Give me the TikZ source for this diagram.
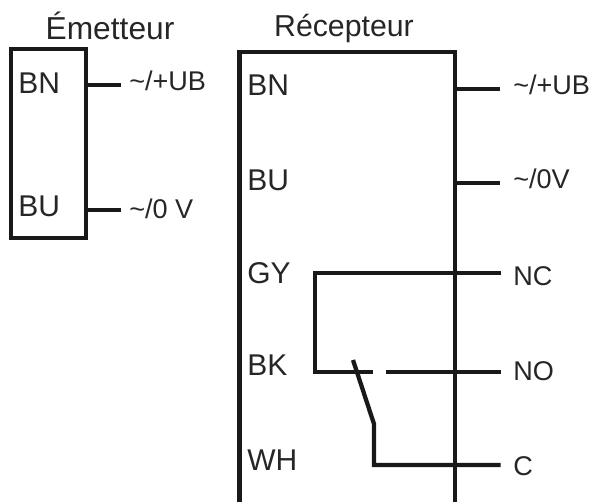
\documentclass[tikz,border=0pt]{standalone}
\usepackage{fontspec}
\setmainfont{Liberation Sans}
\begin{document}
\begin{tikzpicture}[x=0.75pt,y=-0.75pt,
  wire/.style={line width=3.2pt,line join=miter,black!90},
  pin/.style={inner sep=0pt,anchor=west,font=\fontsize{22.5}{22}\selectfont,text=black!85},
  term/.style={inner sep=0pt,anchor=west,font=\fontsize{20.3}{20}\selectfont,text=black!85},
  head/.style={inner sep=0pt,anchor=center,text=black!85}]
\useasboundingbox (0,0) rectangle (592,502);
% Emitter
\node[draw,wire,minimum width=56.25pt,minimum height=141.75pt,anchor=north west,inner sep=0pt] (em) at (9,47) {};
\node[head,font=\fontsize{23.8}{24}\selectfont] (emt) at (110,26) {Émetteur};
\node[pin] (e1) at (18,83) {BN};
\node[pin] (e2) at (18,206) {BU};
\node[term] (et1) at (129,81) {\textasciitilde/+UB};
\node[term] (et2) at (129,209) {\textasciitilde/0 V};
\coordinate (e1a) at (86,85); \coordinate (e1b) at (121,85);
\coordinate (e2a) at (86,210); \coordinate (e2b) at (121,210);
\draw[wire] (e1a) -- (e1b);
\draw[wire] (e2a) -- (e2b);
% Receiver
\node[head,font=\fontsize{22.7}{23}\selectfont] (rc) at (344,29) {Récepteur};
\coordinate (rbl) at (239.5,502); \coordinate (rtl) at (239.5,52);
\coordinate (rtr) at (455,52); \coordinate (rbr) at (455,502);
\draw[wire] (rbl) -- (rtl) -- (rtr) -- (rbr);
\node[pin] (r1) at (247,85) {BN};
\node[pin] (r2) at (247,180) {BU};
\node[pin] (r3) at (247,273) {GY};
\node[pin] (r4) at (247,365) {BK};
\node[pin] (r5) at (247,460) {WH};
\node[term] (t1) at (513,85) {\textasciitilde/+UB};
\node[term] (t2) at (513,179) {\textasciitilde/0V};
\node[term] (t3) at (513,276) {NC};
\node[term] (t4) at (513,371) {NO};
\node[term] (t5) at (513,466) {C};
\coordinate (a1) at (455,89); \coordinate (b1) at (500,89);
\coordinate (a2) at (455,183); \coordinate (b2) at (500,183);
\draw[wire] (a1) -- (b1);
\draw[wire] (a2) -- (b2);
\coordinate (nc) at (500.7,273); \coordinate (gyc) at (315,273);
\coordinate (bkc) at (315,372); \coordinate (g1) at (373,372);
\coordinate (g2) at (386,372); \coordinate (no) at (500.7,372);
\coordinate (swt) at (353,360); \coordinate (swb) at (374,424);
\coordinate (cc) at (374,465); \coordinate (ce) at (500.7,465);
\draw[wire] (nc) -- (gyc) -- (bkc) -- (g1);
\draw[wire] (g2) -- (no);
\draw[wire] (swt) -- (swb) -- (cc) -- (ce);
\end{tikzpicture}
\end{document}
